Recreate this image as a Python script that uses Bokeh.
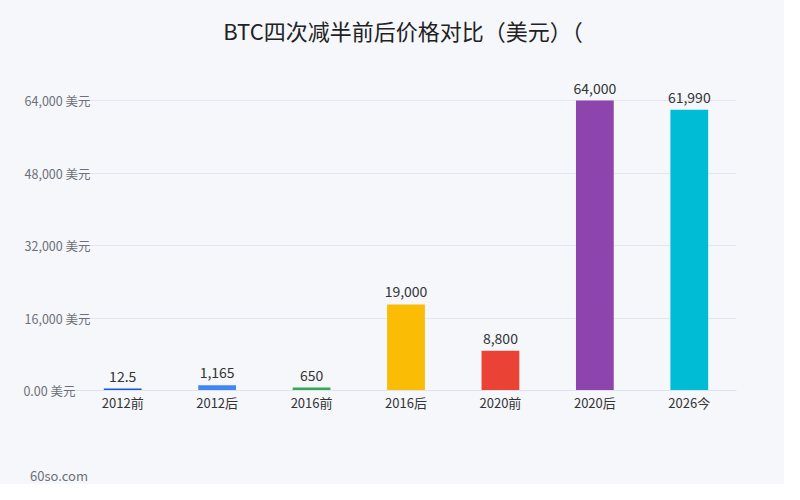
from bokeh.plotting import figure
from bokeh.models import ColumnDataSource, FixedTicker, Range1d, LinearAxis, Div
from bokeh.layouts import column
from bokeh.embed import file_html
from bokeh.resources import INLINE

categories = ["2012前", "2012后", "2016前", "2016后", "2020前", "2020后", "2026今"]
prices = [12.5, 1165, 650, 19000, 8800, 64000, 61990]
price_labels = ["12.5", "1,165", "650", "19,000", "8,800", "64,000", "61,990"]
colors = ["#1a56db", "#4285f4", "#34a853", "#fbbc05", "#ea4335", "#8e44ad", "#00bcd4"]
y_ticks = [0, 16000, 32000, 48000, 64000]
y_tick_labels = ["0.00 美元", "16,000 美元", "32,000 美元", "48,000 美元", "64,000 美元"]
title_text = "BTC四次减半前后价格对比（美元）（"
footer_text = "60so.com"

FONT = "Noto Sans CJK SC"
BG = "#f5f7fb"
Y_END = 68000
FRAME_H = 308
min_bar = 2 * Y_END / FRAME_H  # minimum visible bar height (2px)
tops = [max(v, min_bar) for v in prices]

src = ColumnDataSource(dict(cat=categories, top=tops, label=price_labels, color=colors))

p = figure(width=784, height=408, x_range=categories, y_range=Range1d(0, Y_END),
           output_backend="svg", toolbar_location=None,
           min_border_left=75, min_border_right=48, min_border_top=22, min_border_bottom=78,
           background_fill_color=BG, border_fill_color=BG, outline_line_color=None)

p.vbar(x="cat", top="top", width=0.4, source=src, color="color", line_color=None)
p.text(x="cat", y="top", text="label", source=src, text_align="center",
       text_baseline="bottom", y_offset=-7, text_font_size="14px",
       text_color="#333333", text_font={"value": FONT})

p.xgrid.grid_line_color = None
p.ygrid.ticker = FixedTicker(ticks=y_ticks)
p.ygrid.grid_line_color = "#e3e7f2"
p.ygrid.grid_line_width = 1


def style_y(ax, ticks, standoff):
    ax.ticker = FixedTicker(ticks=ticks)
    ax.major_label_overrides = {t: l for t, l in zip(y_ticks, y_tick_labels) if t in ticks}
    ax.axis_line_color = None
    ax.major_tick_line_color = None
    ax.major_tick_out = 0
    ax.major_tick_in = 0
    ax.minor_tick_line_color = None
    ax.major_label_text_font = FONT
    ax.major_label_text_font_size = "12.5px"
    ax.major_label_text_color = "#6e7079"
    ax.major_label_standoff = standoff


# labels are left-aligned in the reference: the wide ones on the main axis,
# the narrower zero label on a second axis set further out
style_y(p.yaxis[0], y_ticks[1:], -15)
zero_axis = LinearAxis()
style_y(zero_axis, y_ticks[:1], -54)
p.add_layout(zero_axis, "left")

xax = p.xaxis[0]
xax.axis_line_color = "#dfe3ee"
xax.major_tick_line_color = None
xax.major_tick_out = 0
xax.major_tick_in = 0
xax.minor_tick_line_color = None
xax.major_label_text_font = FONT
xax.major_label_text_font_size = "13px"
xax.major_label_text_color = "#333333"
xax.major_label_standoff = 2

title_div = Div(
    text=(f'<div style="width:784px;height:60px;line-height:60px;box-sizing:border-box;'
          f'padding-left:22px;text-align:center;background:{BG};color:#222222;'
          f'font-family:\'{FONT}\';font-size:22px;white-space:nowrap;">{title_text}</div>'),
    width=784, height=60, margin=(0, 0, 0, 0))

footer_div = Div(
    text=(f'<div style="width:784px;height:16px;line-height:16px;box-sizing:border-box;'
          f'padding-left:30px;text-align:left;background:{BG};color:#6e7079;'
          f'font-family:\'{FONT}\';font-size:13px;white-space:nowrap;">{footer_text}</div>'),
    width=784, height=16, margin=(0, 0, 0, 0))

layout = column(title_div, p, footer_div, spacing=0)
layout.styles = {"background-color": BG}

open("out.html", "w").write(file_html(layout, INLINE))
